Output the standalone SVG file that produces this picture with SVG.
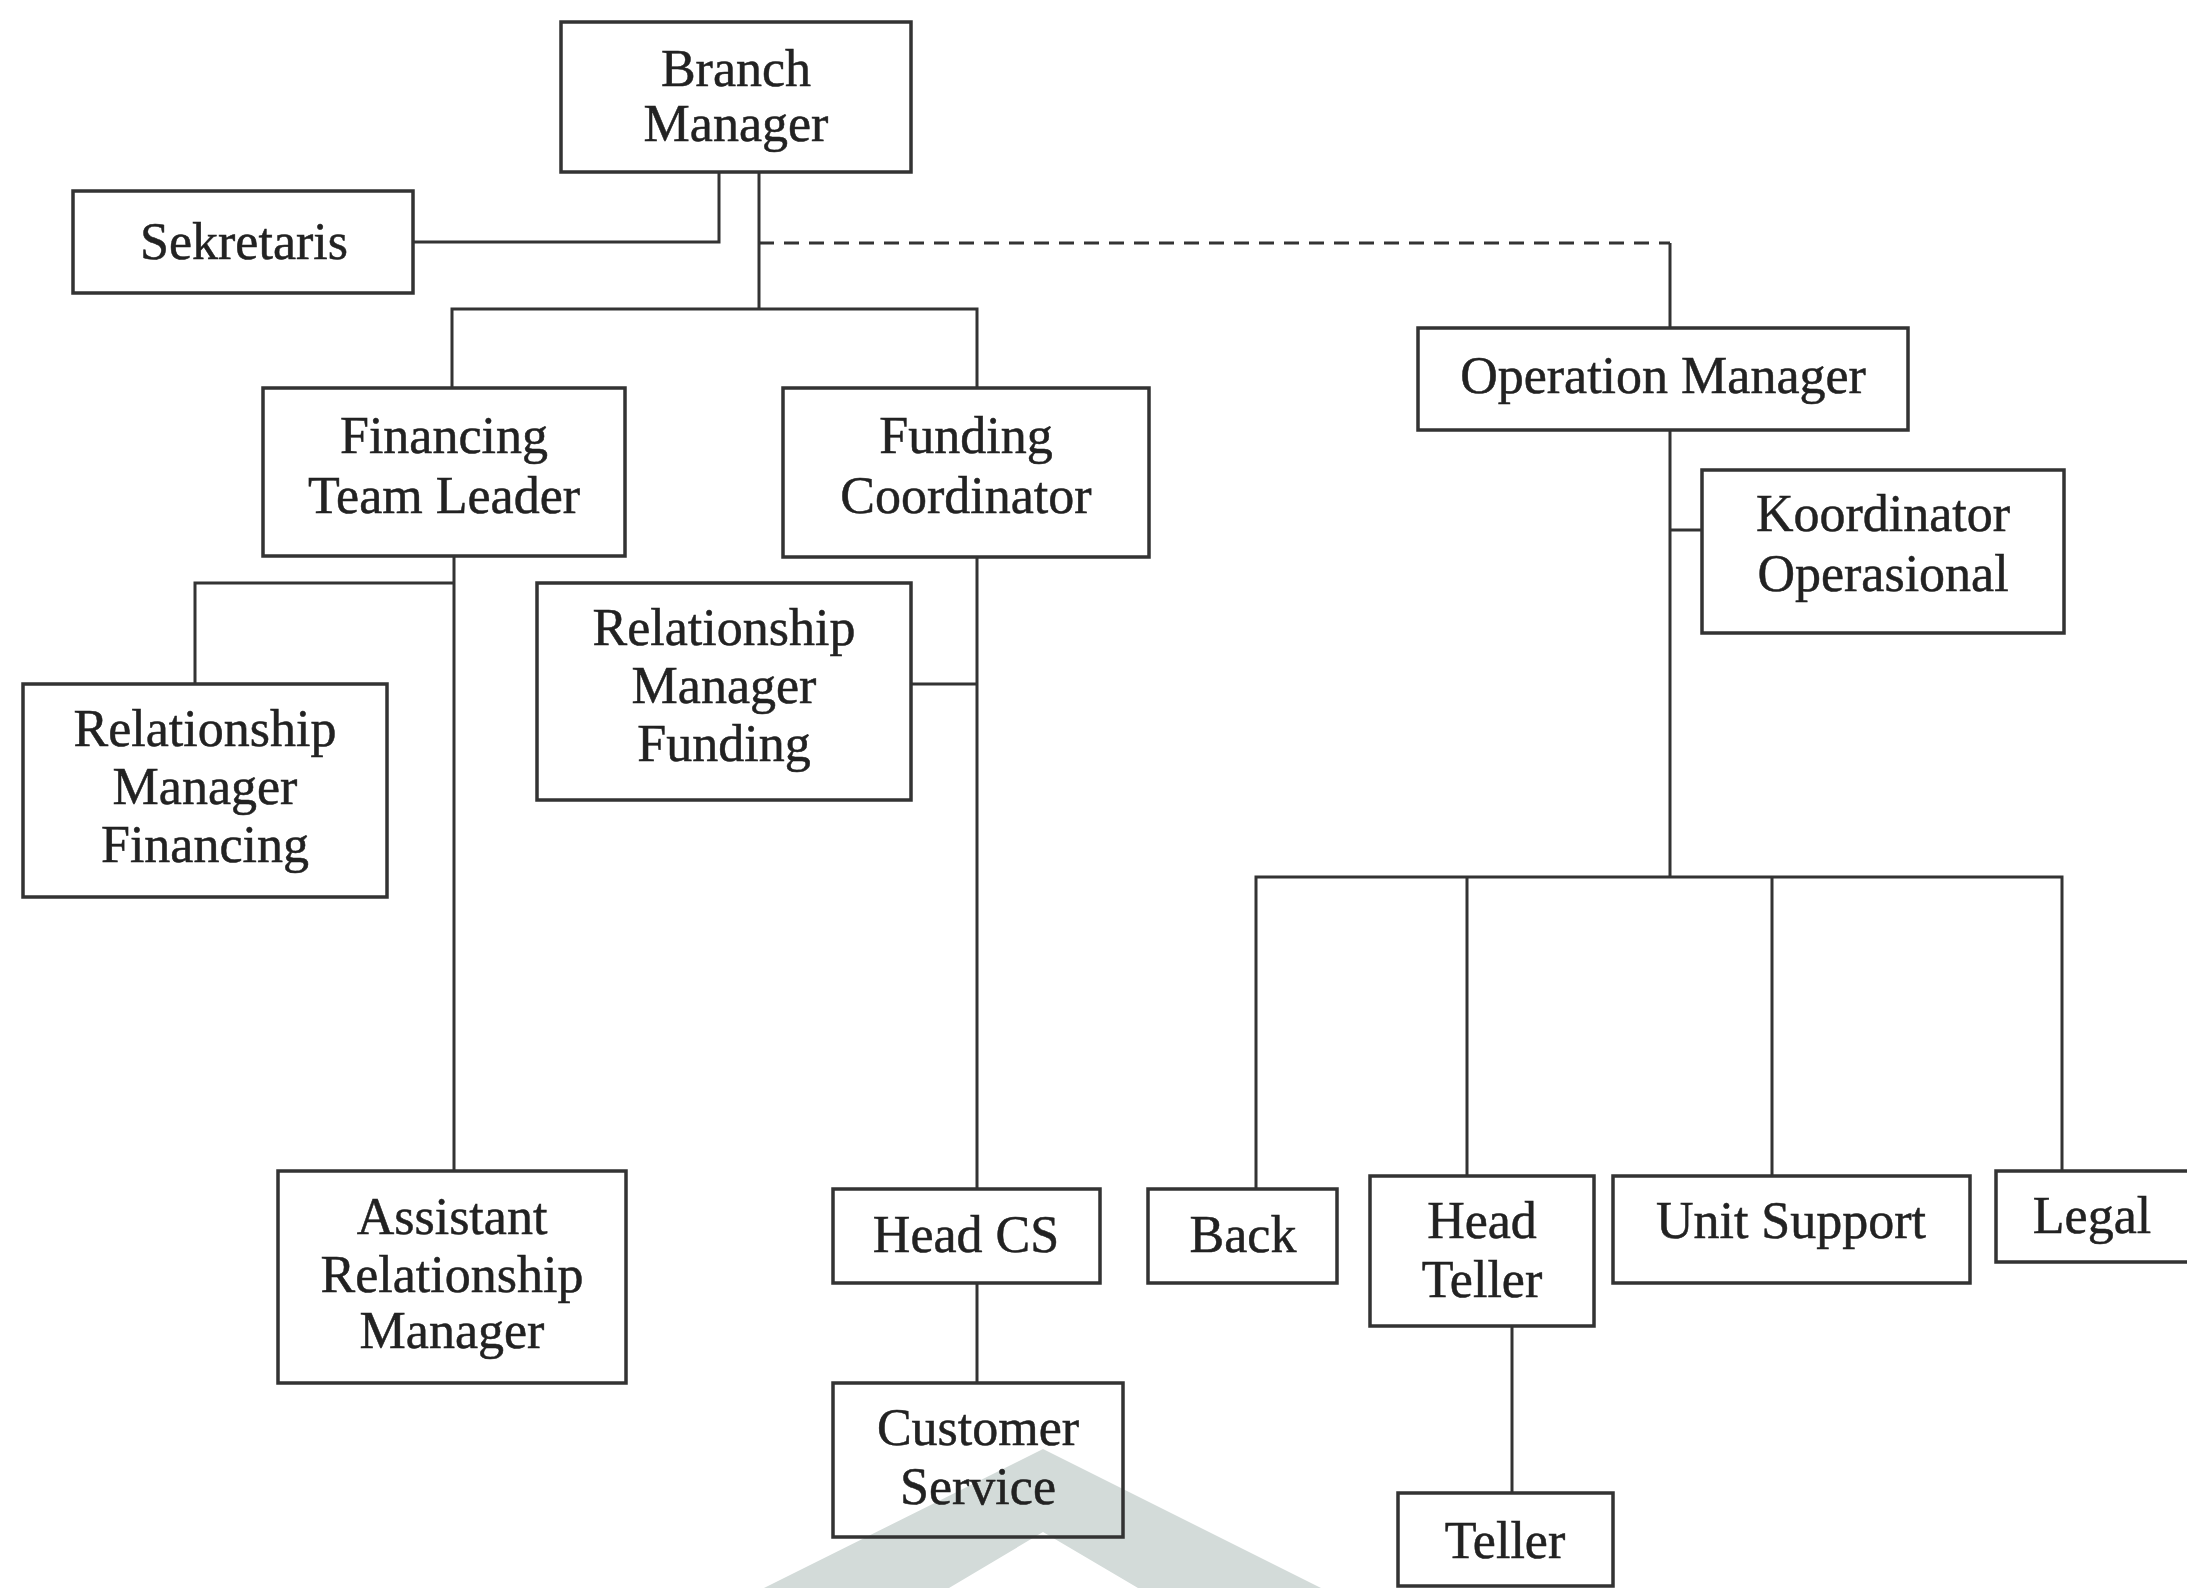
<svg xmlns="http://www.w3.org/2000/svg" width="2187" height="1588" viewBox="0 0 2187 1588">
<style>
.box{fill:none;stroke:#333333;stroke-width:3.5}
.ln{fill:none;stroke:#333333;stroke-width:3}
.dash{fill:none;stroke:#333333;stroke-width:3;stroke-dasharray:15 10}
text{font-family:"Liberation Serif","Times New Roman",serif;font-size:52px;fill:#222222;stroke:#222222;stroke-width:0.5;text-anchor:middle}
</style>
<rect width="2187" height="1588" fill="#ffffff"/>
<polygon points="764,1588 1043,1449 1321,1588 1138,1588 1043,1532 949,1588" fill="#d3dbd9"/>
<g id="connectors">
<polyline class="ln" points="719,172 719,242 413,242"/>
<line class="ln" x1="759" y1="172" x2="759" y2="309"/>
<line class="dash" x1="759" y1="243" x2="1670" y2="243"/>
<line class="ln" x1="1670" y1="243" x2="1670" y2="328"/>
<polyline class="ln" points="452,388 452,309 977,309 977,388"/>
<line class="ln" x1="454" y1="556" x2="454" y2="1171"/>
<polyline class="ln" points="454,583 195,583 195,684"/>
<line class="ln" x1="977" y1="557" x2="977" y2="1189"/>
<line class="ln" x1="911" y1="684" x2="977" y2="684"/>
<line class="ln" x1="977" y1="1283" x2="977" y2="1383"/>
<line class="ln" x1="1670" y1="430" x2="1670" y2="877"/>
<line class="ln" x1="1670" y1="530" x2="1702" y2="530"/>
<polyline class="ln" points="1256,1189 1256,877 2062,877 2062,1171"/>
<line class="ln" x1="1467" y1="877" x2="1467" y2="1176"/>
<line class="ln" x1="1772" y1="877" x2="1772" y2="1176"/>
<line class="ln" x1="1512" y1="1326" x2="1512" y2="1493"/>
</g>
<g id="branch-manager"><rect class="box" x="561" y="22" width="350" height="150"/><text x="736" y="86">Branch</text><text x="736" y="141">Manager</text></g>
<g id="sekretaris"><rect class="box" x="73" y="191" width="340" height="102"/><text x="244" y="259">Sekretaris</text></g>
<g id="financing-team-leader"><rect class="box" x="263" y="388" width="362" height="168"/><text x="444" y="453">Financing</text><text x="444" y="513">Team Leader</text></g>
<g id="funding-coordinator"><rect class="box" x="783" y="388" width="366" height="169"/><text x="966" y="453">Funding</text><text x="966" y="513">Coordinator</text></g>
<g id="operation-manager"><rect class="box" x="1418" y="328" width="490" height="102"/><text x="1663" y="393">Operation Manager</text></g>
<g id="koordinator-operasional"><rect class="box" x="1702" y="470" width="362" height="163"/><text x="1883" y="531">Koordinator</text><text x="1883" y="591">Operasional</text></g>
<g id="rm-financing"><rect class="box" x="23" y="684" width="364" height="213"/><text x="205" y="746">Relationship</text><text x="205" y="804">Manager</text><text x="205" y="862">Financing</text></g>
<g id="rm-funding"><rect class="box" x="537" y="583" width="374" height="217"/><text x="724" y="645">Relationship</text><text x="724" y="703">Manager</text><text x="724" y="761">Funding</text></g>
<g id="assistant-rm"><rect class="box" x="278" y="1171" width="348" height="212"/><text x="452" y="1234">Assistant</text><text x="452" y="1292">Relationship</text><text x="452" y="1348">Manager</text></g>
<g id="head-cs"><rect class="box" x="833" y="1189" width="267" height="94"/><text x="966" y="1252">Head CS</text></g>
<g id="customer-service"><rect class="box" x="833" y="1383" width="290" height="154"/><text x="978" y="1445">Customer</text><text x="978" y="1504">Service</text></g>
<g id="back"><rect class="box" x="1148" y="1189" width="189" height="94"/><text x="1243" y="1252">Back</text></g>
<g id="head-teller"><rect class="box" x="1370" y="1176" width="224" height="150"/><text x="1482" y="1238">Head</text><text x="1482" y="1297">Teller</text></g>
<g id="unit-support"><rect class="box" x="1613" y="1176" width="357" height="107"/><text x="1791" y="1238">Unit Support</text></g>
<g id="legal"><rect class="box" x="1996" y="1171" width="230" height="91"/><text x="2092" y="1233">Legal</text></g>
<g id="teller"><rect class="box" x="1398" y="1493" width="215" height="93"/><text x="1505" y="1558">Teller</text></g>
</svg>
